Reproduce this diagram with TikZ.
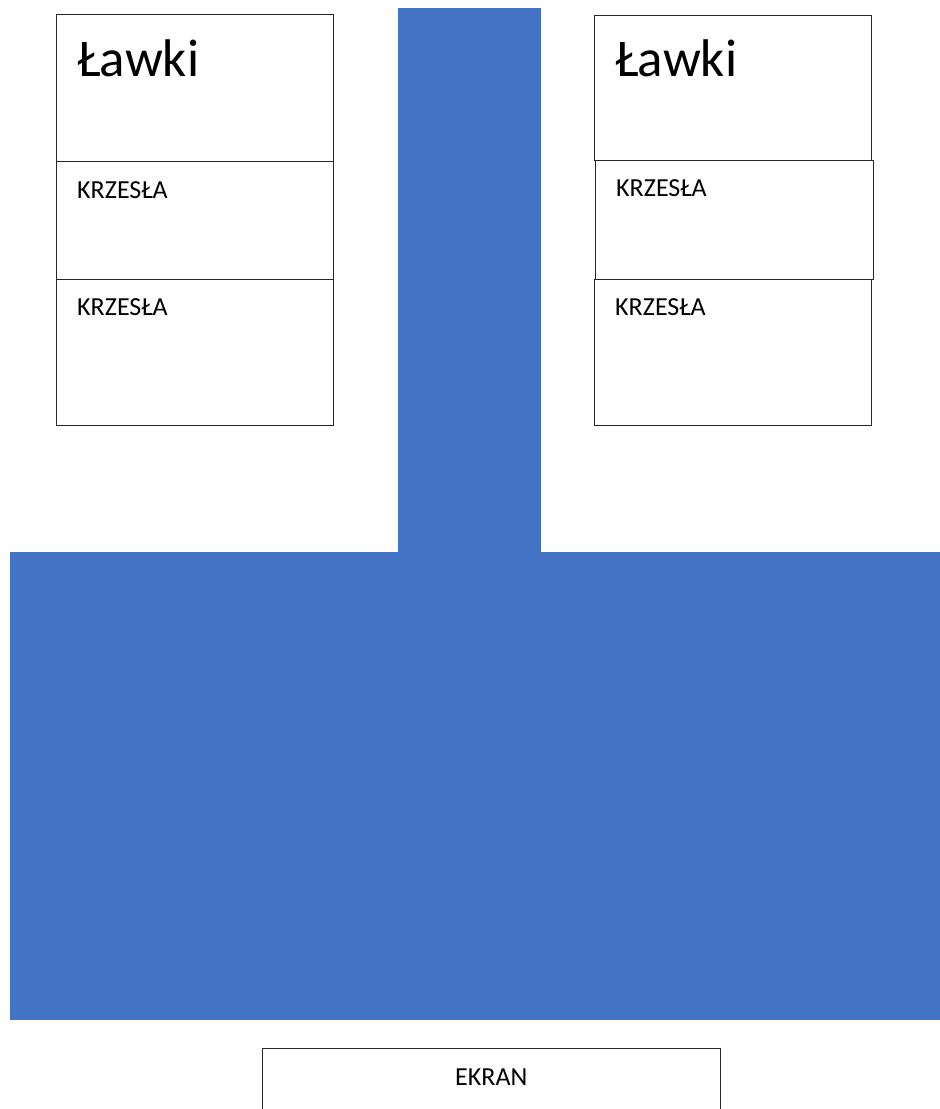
\documentclass[tikz,border=0pt]{standalone}
\usepackage{fontspec}
\setmainfont{Carlito}
\definecolor{floorblue}{HTML}{4472C4}
\begin{document}
\begin{tikzpicture}[x=1pt,y=-1pt,
  box/.style={draw=black!85,line width=0.9pt},
  big/.style={font=\fontsize{53}{58}\selectfont,anchor=base west,inner sep=0pt},
  small/.style={font=\fontsize{26}{30}\selectfont,anchor=base west,inner sep=0pt}]
\useasboundingbox (0,0) rectangle (940,1109);
% blue floor
\fill[floorblue] (398,8) rectangle (541,553);
\fill[floorblue] (10,552) rectangle (940,1020);
% left boxes
\draw[box] (56,14) rectangle (333,161);
\draw[box] (56,161) rectangle (333,279);
\draw[box] (56,279) rectangle (333,425);
% right boxes
\draw[box] (594,15) rectangle (871,160);
\draw[box] (595,160) rectangle (873,279);
\draw[box] (594,279) rectangle (871,425);
% screen
\draw[box] (262,1109) -- (262,1048) -- (720,1048) -- (720,1109);
% texts
\node[big] (lawkiL) at (77,76) {Ławki};
\node[small] (krzL1) at (77,198) {KRZESŁA};
\node[small] (krzL2) at (77,315) {KRZESŁA};
\node[big] (lawkiR) at (615,76) {Ławki};
\node[small] (krzR1) at (616,196) {KRZESŁA};
\node[small] (krzR2) at (615,315) {KRZESŁA};
\node[small] (ekran) at (455,1085) {EKRAN};
\end{tikzpicture}
\end{document}
